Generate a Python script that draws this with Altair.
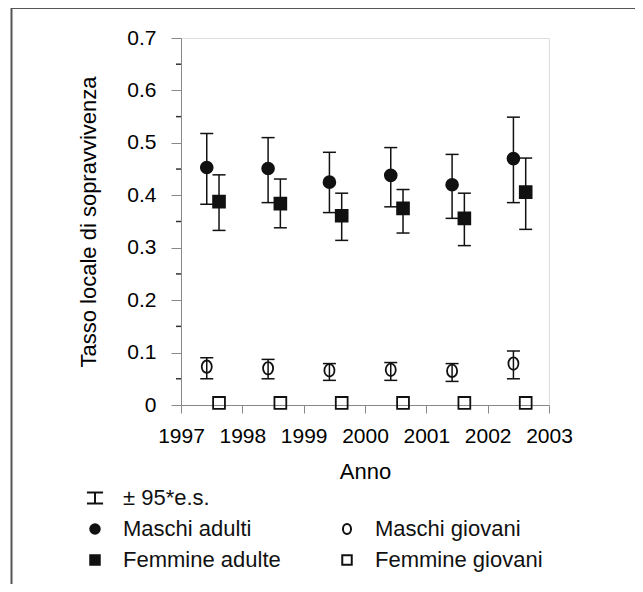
import altair as alt
import pandas as pd

years = [1997, 1998, 1999, 2000, 2001, 2002]

# Maschi adulti
ma_val = [0.453, 0.451, 0.425, 0.438, 0.420, 0.470]
ma_lo = [0.383, 0.386, 0.367, 0.378, 0.356, 0.386]
ma_hi = [0.518, 0.510, 0.482, 0.491, 0.478, 0.549]
# Femmine adulte
fa_val = [0.388, 0.384, 0.361, 0.375, 0.356, 0.406]
fa_lo = [0.333, 0.338, 0.314, 0.328, 0.304, 0.335]
fa_hi = [0.439, 0.431, 0.404, 0.411, 0.404, 0.471]
# Maschi giovani
mg_val = [0.073, 0.070, 0.066, 0.067, 0.065, 0.079]
mg_lo = [0.050, 0.050, 0.047, 0.047, 0.045, 0.050]
mg_hi = [0.090, 0.087, 0.079, 0.081, 0.079, 0.103]
# Femmine giovani
fg_val = [0.004, 0.004, 0.004, 0.004, 0.004, 0.004]

x_ticks = [1997, 1998, 1999, 2000, 2001, 2002, 2003]
y_ticks = [0, 0.1, 0.2, 0.3, 0.4, 0.5, 0.6, 0.7]
y_minor = [0.05, 0.15, 0.25, 0.35, 0.45, 0.55, 0.65]

# legend entries, column by column (left column, then right column)
legend_domain = ["± 95*e.s.", "Maschi adulti", "Femmine adulte",
                 " ", "Maschi giovani", "Femmine giovani"]

MALE_OFF = 0.42
FEMALE_OFF = 0.62

pts = []
bars = []
for i, yr in enumerate(years):
    pts.append({"g": "Maschi adulti", "x": yr + MALE_OFF, "v": ma_val[i]})
    pts.append({"g": "Femmine adulte", "x": yr + FEMALE_OFF, "v": fa_val[i]})
    pts.append({"g": "Maschi giovani", "x": yr + MALE_OFF, "v": mg_val[i]})
    pts.append({"g": "Femmine giovani", "x": yr + FEMALE_OFF, "v": fg_val[i]})
    bars.append({"x": yr + MALE_OFF, "lo": ma_lo[i], "hi": ma_hi[i]})
    bars.append({"x": yr + FEMALE_OFF, "lo": fa_lo[i], "hi": fa_hi[i]})
    bars.append({"x": yr + MALE_OFF, "lo": mg_lo[i], "hi": mg_hi[i]})
pts_df = pd.DataFrame(pts)
bars_df = pd.DataFrame(bars)

FONT = "Liberation Sans"
INK = "#111111"
LINE = "#333333"

x_scale = alt.Scale(domain=[1997, 2003], nice=False, zero=False)
y_scale = alt.Scale(domain=[0, 0.7], nice=False)

x_axis = alt.Axis(values=x_ticks, format="d", title="Anno", tickSize=8,
                  labelPadding=12, titlePadding=15, labelFontSize=21,
                  titleFontSize=22, titleFontWeight="normal", labelFont=FONT,
                  titleFont=FONT, labelFlush=False, labelOverlap=False,
                  grid=False)
y_axis = alt.Axis(values=y_ticks,
                  labelExpr="datum.value == 0 ? '0' : format(datum.value, '.1f')",
                  title="Tasso locale di sopravvivenza", tickSize=10,
                  labelPadding=15, titlePadding=26, labelFontSize=21,
                  titleFontSize=22, titleFontWeight="normal", labelFont=FONT,
                  titleFont=FONT, labelOverlap=False, grid=False)

X = alt.X("x:Q", scale=x_scale, axis=x_axis)

one = pd.DataFrame({"k": [0]})

frame_top = alt.Chart(one).mark_rule(color="#555555", strokeWidth=2).encode(
    x=alt.value(-170), x2=alt.value(470), y=alt.value(-30))
frame_left = alt.Chart(one).mark_rule(color="#555555", strokeWidth=2).encode(
    x=alt.value(-169.5), y=alt.value(-30), y2=alt.value(600))

minor = alt.Chart(pd.DataFrame({"m": y_minor})).mark_rule(
    color=LINE, strokeWidth=1.5).encode(
    y=alt.Y("m:Q", scale=y_scale, axis=y_axis),
    x=alt.value(-5), x2=alt.value(0))

rules = alt.Chart(bars_df).mark_rule(color=INK, strokeWidth=1.5).encode(
    x=X, y=alt.Y("lo:Q", scale=y_scale, axis=y_axis), y2="hi:Q")
cap_lo = alt.Chart(bars_df).mark_tick(
    orient="horizontal", color=INK, size=13, thickness=1.5, opacity=1).encode(
    x=X, y=alt.Y("lo:Q", scale=y_scale, axis=y_axis))
cap_hi = alt.Chart(bars_df).mark_tick(
    orient="horizontal", color=INK, size=13, thickness=1.5, opacity=1).encode(
    x=X, y=alt.Y("hi:Q", scale=y_scale, axis=y_axis))

ibeam = "M-1.7,-1.15H1.7M0,-1.15V1.15M-1.7,1.15H1.7"
blank = "M0,0L0,0"
ellipse = "M0,-1.05A0.85,1.05 0 1,1 0,1.05A0.85,1.05 0 1,1 0,-1.05Z"

leg = alt.Legend(title=None, orient="none", legendX=-97, legendY=449,
                 columns=2, columnPadding=55, rowPadding=9, symbolSize=90,
                 symbolStrokeWidth=2, labelOffset=17, labelFontSize=22,
                 labelFont=FONT, labelColor=INK, padding=0, labelLimit=400)

points = alt.Chart(pts_df).mark_point(opacity=1, strokeWidth=1.8, size=140).encode(
    x=X, y=alt.Y("v:Q", scale=y_scale, axis=y_axis),
    shape=alt.Shape("g:N", scale=alt.Scale(
        domain=legend_domain,
        range=[ibeam, "circle", "square", blank, ellipse, "square"]), legend=leg),
    fill=alt.Fill("g:N", scale=alt.Scale(
        domain=legend_domain,
        range=["transparent", INK, INK, "transparent", "transparent", "transparent"]),
        legend=leg),
    stroke=alt.Stroke("g:N", scale=alt.Scale(
        domain=legend_domain,
        range=[INK, INK, INK, "transparent", INK, INK]), legend=leg),
)

chart = alt.layer(frame_top, frame_left, minor, rules, cap_lo, cap_hi, points).properties(
    width=368, height=367,
    autosize=alt.AutoSizeParams(type="none"),
    padding={"left": 173, "top": 30, "right": 86, "bottom": 179},
).configure_view(stroke=LINE, strokeWidth=1.5).configure_axis(
    domainColor=LINE, domainWidth=1.5, tickColor=LINE, tickWidth=1.5,
    labelColor=INK, titleColor=INK
).configure(background="white")

chart.save("out.html", embed_options={"renderer": "svg", "actions": False})
